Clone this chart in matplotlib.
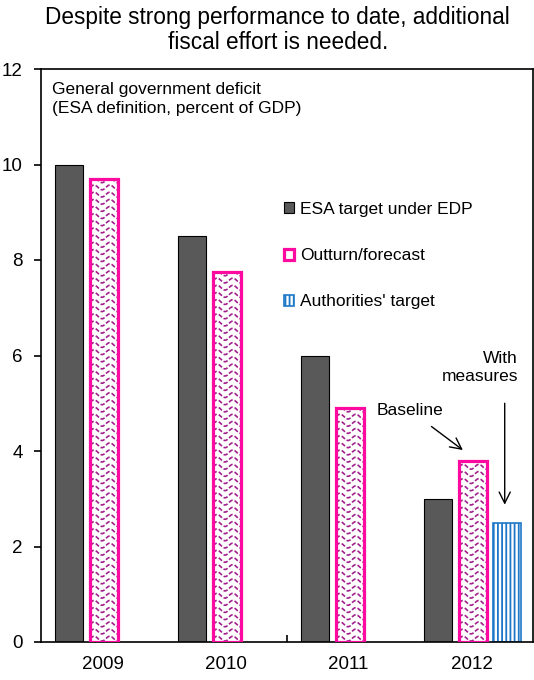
import numpy as np
import matplotlib
matplotlib.use("Agg")
import matplotlib.pyplot as plt

plt.rcParams['font.family'] = ['Liberation Sans', 'DejaVu Sans']

years = ["2009", "2010", "2011", "2012"]
esa_target = [10.0, 8.5, 6.0, 3.0]
outturn = [9.7, 7.75, 4.9, 3.8]
authorities_target = [np.nan, np.nan, np.nan, 2.5]
series_names = ["ESA target under EDP", "Outturn/forecast", "Authorities' target"]
title = "Despite strong performance to date, additional\nfiscal effort is needed."
note = "General government deficit\n(ESA definition, percent of GDP)"

fig = plt.figure(figsize=(5.34, 6.8), dpi=100)
ax = fig.add_axes([41/534, 38/680, 492/534, 573/680])

x = np.arange(len(years))
w = 0.23
dark = "#595959"
pink = "#FF0AA0"
wave = "#A0208C"
blue = "#1E78C8"

b1 = ax.bar(x - 0.27, esa_target, w, color=dark, edgecolor="black", linewidth=0.8,
            label=series_names[0], zorder=2)
b2 = ax.bar(x + 0.015, outturn, w, color="white", edgecolor=pink, linewidth=2.3,
            label=series_names[1], zorder=2)
plt.rcParams['hatch.linewidth'] = 1.3
b3 = ax.bar(x + 0.29, authorities_target, w, color="white", edgecolor=blue, linewidth=1.2,
            hatch="||||", label=series_names[2], zorder=2)

# wavy dashed fill inside the outturn bars
for rect in b2:
    x0, y0 = rect.get_x(), rect.get_y()
    bw, bh = rect.get_width(), rect.get_height()
    xs = np.linspace(x0, x0 + bw, 80)
    for yy in np.arange(y0 + 0.07, y0 + bh, 0.15):
        ys = yy + 0.05 * np.sin((xs - x0) / bw * 2 * np.pi * 1.8)
        ln, = ax.plot(xs, ys, color=wave, lw=1.2, ls=(0, (2.6, 1.2)), zorder=2.5)
        ln.set_clip_path(rect)
    rect.set_zorder(2.6)
    rect.set_facecolor("none")
# white backgrounds below the wave lines
ax.bar(x + 0.015, outturn, w, color="white", edgecolor="none", zorder=1.9)

ax.set_xlim(-0.5, 3.5)
ax.set_ylim(0, 12)
ax.set_yticks(range(0, 13, 2))
ax.tick_params(axis='y', direction='out', length=5, width=1.2, labelsize=13.5, pad=8)
ax.set_xticks(x)
ax.set_xticklabels(years)
ax.tick_params(axis='x', length=0, labelsize=13.5, pad=10)
ax.set_xticks([1.5], minor=True)
ax.tick_params(axis='x', which='minor', direction='in', length=5, width=1.2)
for s in ax.spines.values():
    s.set_linewidth(1.2)

fig.text(0.52, 1 - 30/680, title, ha='center', va='center', fontsize=16.3, linespacing=1.1)
ax.text(11/492, 1 - 30/573, note, transform=ax.transAxes, ha='left', va='center',
        fontsize=12.5, linespacing=1.3)

ax.legend(loc='upper left', bbox_to_anchor=(236/492, 1 - 126/573), frameon=False,
          fontsize=12.5, handlelength=0.6, handleheight=0.6, handletextpad=0.35,
          labelspacing=1.8, borderaxespad=0)

ax.annotate("Baseline", xy=(2.93, 4.02), xytext=(2.5, 4.85),
            ha='center', va='center', fontsize=12.5,
            arrowprops=dict(arrowstyle='->', color='black', lw=1.0,
                            shrinkA=7, shrinkB=0, mutation_scale=20))
ax.text(3.378, 5.74, "With\nmeasures", ha='right', va='center', fontsize=12.5,
        linespacing=1.25)
ax.annotate("", xy=(3.27, 2.875), xytext=(3.27, 5.0),
            arrowprops=dict(arrowstyle='->', color='black', lw=1.0,
                            shrinkA=0, shrinkB=0, mutation_scale=20))

fig.savefig("out.png", dpi=100)
